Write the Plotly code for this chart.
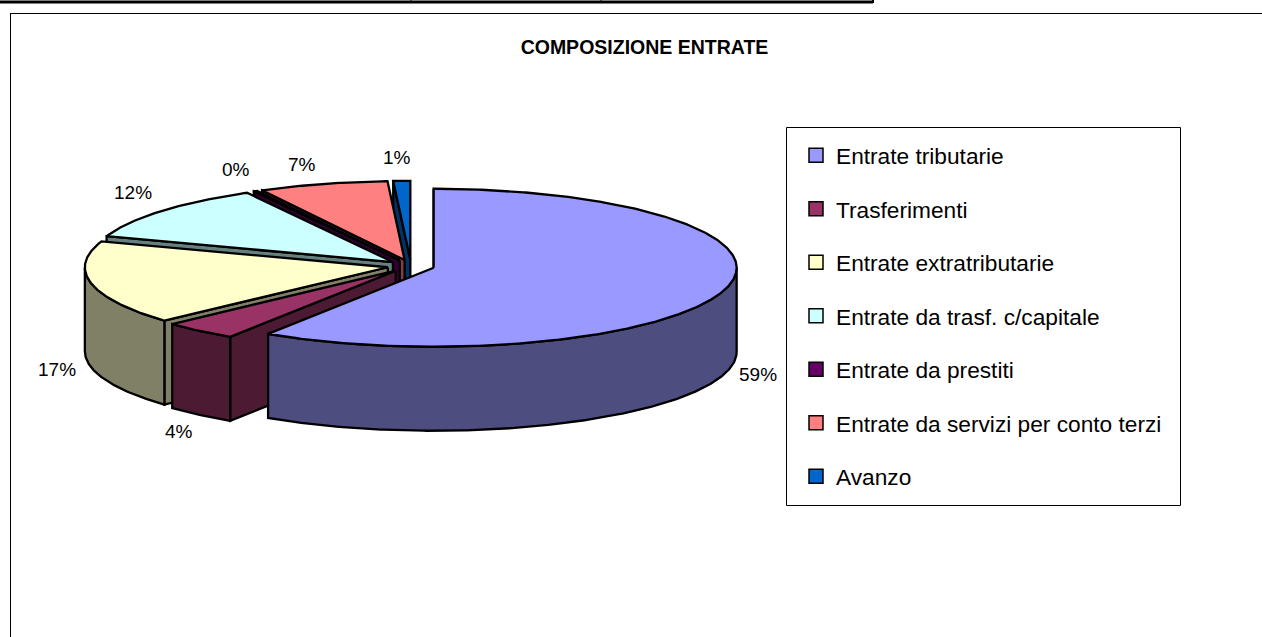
import numpy as np
import plotly.graph_objects as go

# ---- data ----
categories = ["Entrate tributarie", "Trasferimenti", "Entrate extratributarie",
              "Entrate da trasf. c/capitale", "Entrate da prestiti",
              "Entrate da servizi per conto terzi", "Avanzo"]
values = [59.2, 4.0, 17.1, 11.7, 0.2, 6.9, 0.9]
labels = ["59%", "4%", "17%", "12%", "0%", "7%", "1%"]
top_colors = ["#9999FF", "#993366", "#FFFFCC", "#CCFFFF", "#660066", "#FF8080", "#0066CC"]
side_colors = ["#4D4D80", "#4D1A33", "#808066", "#668080", "#330033", "#804040", "#003366"]

# ---- pie geometry ----
CX, CY = 411, 266
A, B = 303, 79
DEPTH = 84
EXPLODE = 0.078
label_pos = [(758, 374), (179, 431), (57, 369), (133, 192), (236, 169), (302, 164), (397, 157)]
title_text = "COMPOSIZIONE ENTRATE"

fig = go.Figure()

# legend entries
for i, name in enumerate(categories):
    fig.add_trace(go.Scatter(
        x=[None], y=[None], mode="markers", name=name, legendgroup=name,
        marker=dict(symbol="square", size=14, color=top_colors[i],
                    line=dict(color="black", width=1.5))))

def poly(xs, ys, fill):
    fig.add_trace(go.Scatter(
        x=xs, y=ys, mode="lines", fill="toself", fillcolor=fill,
        line=dict(color="black", width=2.3, shape="linear"),
        showlegend=False, hoverinfo="skip"))

total = sum(values)
cum = np.cumsum([0] + values) / total * 2 * np.pi
slices = []
for i in range(len(values)):
    t0, t1 = cum[i], cum[i + 1]
    mid = (t0 + t1) / 2
    cx = CX + EXPLODE * A * np.sin(mid)
    cy = CY - EXPLODE * B * np.cos(mid)
    slices.append((i, t0, t1, cx, cy))

# back-to-front painting order
for i, t0, t1, cx, cy in reversed(slices):
    n = max(8, int((t1 - t0) * 120))
    th = np.linspace(t0, t1, n)
    ex = cx + A * np.sin(th)
    ey = cy - B * np.cos(th)
    # start wall
    sx, sy = ex[0], ey[0]
    poly([cx, sx, sx, cx, cx], [cy, sy, sy + DEPTH, cy + DEPTH, cy], side_colors[i])
    # rim
    lo, hi = max(t0, np.pi / 2), min(t1, 3 * np.pi / 2)
    if hi > lo:
        r = np.linspace(lo, hi, max(8, int((hi - lo) * 120)))
        rx = cx + A * np.sin(r)
        ry = cy - B * np.cos(r)
        poly(list(rx) + list(rx[::-1]) + [rx[0]],
             list(ry) + list(ry[::-1] + DEPTH) + [ry[0]], side_colors[i])
    # top
    poly([cx] + list(ex) + [cx], [cy] + list(ey) + [cy], top_colors[i])

annotations = [dict(x=x, y=y, text=t, showarrow=False, xref="x", yref="y",
                    font=dict(size=19, color="black"))
               for (x, y), t in zip(label_pos, labels)]

shapes = [
    dict(type="line", x0=0, x1=873, y0=2, y1=2, line=dict(color="black", width=3)),
    dict(type="line", x0=873, x1=873, y0=0, y1=3, line=dict(color="black", width=2)),
    dict(type="line", x0=411, x1=411, y0=0, y1=2, line=dict(color="black", width=1)),
    dict(type="line", x0=601, x1=601, y0=0, y1=2, line=dict(color="black", width=1)),
    dict(type="line", x0=10, x1=1262, y0=13.5, y1=13.5, line=dict(color="black", width=1)),
    dict(type="line", x0=10.5, x1=10.5, y0=13, y1=637, line=dict(color="black", width=1)),
    dict(type="rect", x0=786.5, x1=1180.5, y0=127.5, y1=505.5, line=dict(color="black", width=1)),
]

fig.update_layout(
    width=1262, height=637, margin=dict(l=0, r=0, t=0, b=0),
    paper_bgcolor="white", plot_bgcolor="white",
    font=dict(family="Liberation Sans, Arial, sans-serif", color="black"),
    title=dict(text="<b>%s</b>" % title_text, x=644.5 / 1262, y=1 - 47 / 637,
               xanchor="center", yanchor="middle", font=dict(size=19.5)),
    xaxis=dict(range=[0, 1262], visible=False, fixedrange=True),
    yaxis=dict(range=[637, 0], visible=False, fixedrange=True),
    shapes=shapes, annotations=annotations,
    legend=dict(x=796 / 1262, y=1 - 134 / 637, xanchor="left", yanchor="top",
                bgcolor="rgba(0,0,0,0)", borderwidth=0,
                font=dict(size=22.7), tracegroupgap=21,
                itemclick=False, itemdoubleclick=False),
    showlegend=True,
)

fig.write_html("out.html", config=dict(displayModeBar=False),
               post_script="document.body.style.margin='0';document.body.style.overflow='hidden';")
